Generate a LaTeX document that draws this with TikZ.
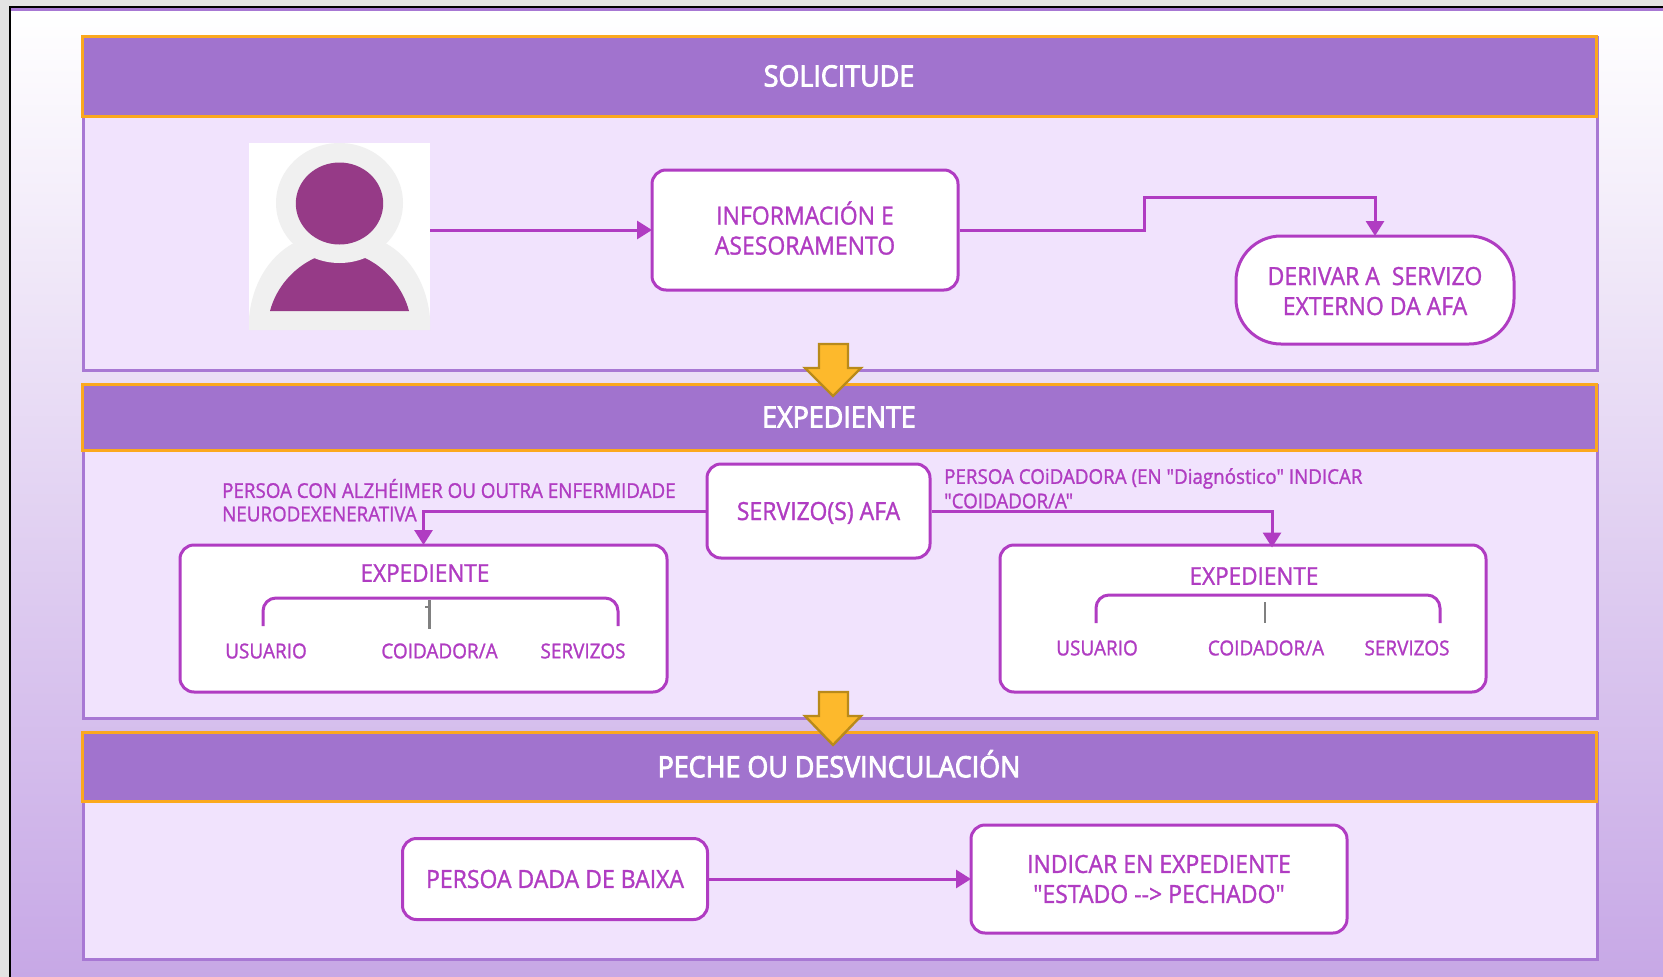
\documentclass[tikz,border=0pt]{standalone}
\usepackage{fontspec}
\setmainfont{Open Sans}
\newfontfamily\txtfont[FakeStretch=0.92,FakeBold=1.2]{Open Sans}
\newfontfamily\hdrfont[FakeStretch=0.92,FakeBold=3]{Open Sans}
\usetikzlibrary{arrows.meta}
\definecolor{hdr}{HTML}{A173CE}
\definecolor{bodyc}{HTML}{F1E3FD}
\definecolor{panelline}{HTML}{A878D4}
\definecolor{org}{HTML}{FBA81E}
\definecolor{mag}{HTML}{B03CC2}
\definecolor{pers}{HTML}{963A87}
\definecolor{pgrey}{HTML}{F0F0F0}
\definecolor{bgend}{HTML}{C7A8E6}
\definecolor{yel}{HTML}{FDB92C}
\definecolor{yelline}{HTML}{B98A1A}
\newcommand{\shifted}[2]{\raisebox{#1}[\height][\depth]{\begin{tabular}{@{}c@{}}#2\end{tabular}}}
\tikzset{
  panel/.style={draw=panelline,line width=3pt,fill=bodyc,rectangle,inner sep=0pt,anchor=north west},
  header/.style={draw=org,line width=3pt,fill=hdr,rectangle,inner sep=0pt,text=white,font=\fontsize{29.2}{30}\hdrfont},
  fbox/.style={draw=mag,line width=3pt,fill=white,rectangle,rounded corners=14pt,inner sep=0pt,text=mag,align=center,font=\fontsize{25}{30}\txtfont},
  small/.style={text=mag,inner sep=0pt,font=\fontsize{20.4}{24}\txtfont},
  lab/.style={text=mag,inner sep=0pt,font=\fontsize{20.6}{24}\txtfont},
  expt/.style={text=mag,inner sep=0pt,font=\fontsize{24.5}{28}\txtfont},
  conn/.style={draw=mag,line width=3pt,shorten >=-1.5pt,-{Triangle[length=15pt,width=18pt]}},
  brace/.style={draw=mag,line width=3pt,rounded corners=13pt},
  tick/.style={draw=gray,line width=2.4pt},
  bigarrow/.style={draw=yelline,line width=2.4pt,fill=yel,line join=miter},
}
\begin{document}
\begin{tikzpicture}[x=1pt,y=-1pt]
\useasboundingbox (0,0) rectangle (1663,977);
% window
\fill[gray!22] (0,0) rectangle (1663,977);
\shade[top color=white,bottom color=bgend] (10,10) rectangle (1663,977);
\draw[black,line width=2.4pt] (10,977) -- (10,7) -- (1663,7);
\draw[panelline,line width=2.4pt] (11,9.5) -- (1663,9.5);
% panels
\node[panel,minimum width=1514pt,minimum height=333pt] (p1) at (82,36) {};
\node[panel,minimum width=1514pt,minimum height=333pt] (p2) at (82,384) {};
\node[panel,minimum width=1514pt,minimum height=226pt] (p3) at (82,732) {};
\node[header,minimum width=1514pt,minimum height=80pt] (h1) at (839,76) {SOLICITUDE};
\node[header,minimum width=1514pt,minimum height=66pt] (h2) at (839,417) {EXPEDIENTE};
\node[header,minimum width=1514pt,minimum height=69pt] (h3) at (839,766.5) {\shifted{-1.6pt}{PECHE OU DESVINCULACIÓN}};
% person
\node[fill=white,inner sep=0pt,minimum width=181pt,minimum height=187pt] (person) at (339.5,236.5) {};
\fill[pgrey] (249,330) -- (249,318) .. controls (252,285) and (268,258) .. (292,244) -- (387,244) .. controls (411,258) and (427,285) .. (430,318) -- (430,330) -- cycle;
\fill[pers] (270,311) .. controls (276,288) and (293,268) .. (315,258) -- (365,258) .. controls (386,268) and (403,288) .. (409,311) -- cycle;
\fill[pgrey] (339.5,203) ellipse [x radius=63.5,y radius=60];
\fill[pers] (339.5,203.5) ellipse [x radius=43.7,y radius=41];
% solicitude
\node[fbox,minimum width=306pt,minimum height=120pt] (info) at (805,230) {\shifted{-2.4pt}{INFORMACIÓN E\\ASESORAMENTO}};
\node[fbox,rounded corners=45pt,minimum width=278pt,minimum height=108pt] (der) at (1375,290) {\shifted{-4pt}{DERIVAR A\ \ SERVIZO\\EXTERNO DA AFA}};
\coordinate (j1) at (1144,230);
\coordinate (j2) at (1144,197);
\coordinate (j3) at (1375,197);
\draw[conn] (person.east |- info.west) -- (info.west);
\draw[conn] (info.east) -- (j1) -- (j2) -- (j3) -- (der.north);
% expediente
\node[fbox,minimum width=223pt,minimum height=94pt] (serv) at (818.5,511) {\shifted{-3pt}{SERVIZO(S) AFA}};
\node[fbox,minimum width=487pt,minimum height=147pt] (el) at (423.5,618.5) {};
\node[fbox,minimum width=486pt,minimum height=147pt] (er) at (1243,618.5) {};
\coordinate (l1) at (423.5,511);
\coordinate (r1) at (1272,511);
\coordinate (r2) at (1272,546);
\draw[conn] (serv.west) -- (l1) -- (el.north);
\draw[conn] (serv.east) -- (r1) -- (r2);
\node[small,anchor=west] (tl1) at (222,488.5) {PERSOA CON ALZHÉIMER OU OUTRA ENFERMIDADE};
\node[small,anchor=west] (tl2) at (222,514) {NEURODEXENERATIVA};
\node[small,anchor=west] (tr1) at (944,478.5) {PERSOA COiDADORA (EN "Diagnóstico" INDICAR};
\node[small,anchor=west] (tr2) at (944,501) {"COIDADOR/A"};
\node[expt] (xl) at (425,573) {EXPEDIENTE};
\node[lab] (ul) at (266,651) {USUARIO};
\node[lab] (cl) at (439.5,651) {COIDADOR/A};
\node[lab] (sl) at (583,651) {SERVIZOS};
\coordinate (bl1) at (263,626);
\coordinate (bl2) at (263,598);
\coordinate (bl3) at (618,598);
\coordinate (bl4) at (618,626);
\draw[brace] (bl1) -- (bl2) -- (bl3) -- (bl4);
\coordinate (tka) at (429.5,600);
\coordinate (tkb) at (429.5,629);
\coordinate (tkc) at (425,607);
\coordinate (tkd) at (429.5,607);
\draw[tick] (tka) -- (tkb);
\draw[tick] (tkc) -- (tkd);
\node[expt] (xr) at (1254,576) {EXPEDIENTE};
\node[lab] (ur) at (1097,648) {USUARIO};
\node[lab] (cr) at (1266,648) {COIDADOR/A};
\node[lab] (sr) at (1407,648) {SERVIZOS};
\coordinate (br1) at (1096,623);
\coordinate (br2) at (1096,595);
\coordinate (br3) at (1440,595);
\coordinate (br4) at (1440,623);
\draw[brace] (br1) -- (br2) -- (br3) -- (br4);
\coordinate (tke) at (1265,602);
\coordinate (tkf) at (1265,623);
\draw[tick] (tke) -- (tkf);
% peche
\node[fbox,minimum width=305pt,minimum height=81pt] (baixa) at (555,879) {PERSOA DADA DE BAIXA};
\node[fbox,minimum width=376pt,minimum height=108pt] (ind) at (1159,879) {INDICAR EN EXPEDIENTE\\"ESTADO --> PECHADO"};
\draw[conn] (baixa.east) -- (ind.west);
% big arrows
\draw[bigarrow] (819,344) -- (848,344) -- (848,368) -- (861,368) -- (833,396) -- (805,368) -- (819,368) -- cycle;
\draw[bigarrow] (819,692) -- (848,692) -- (848,716) -- (861,716) -- (833,745) -- (805,716) -- (819,716) -- cycle;
\end{tikzpicture}
\end{document}
